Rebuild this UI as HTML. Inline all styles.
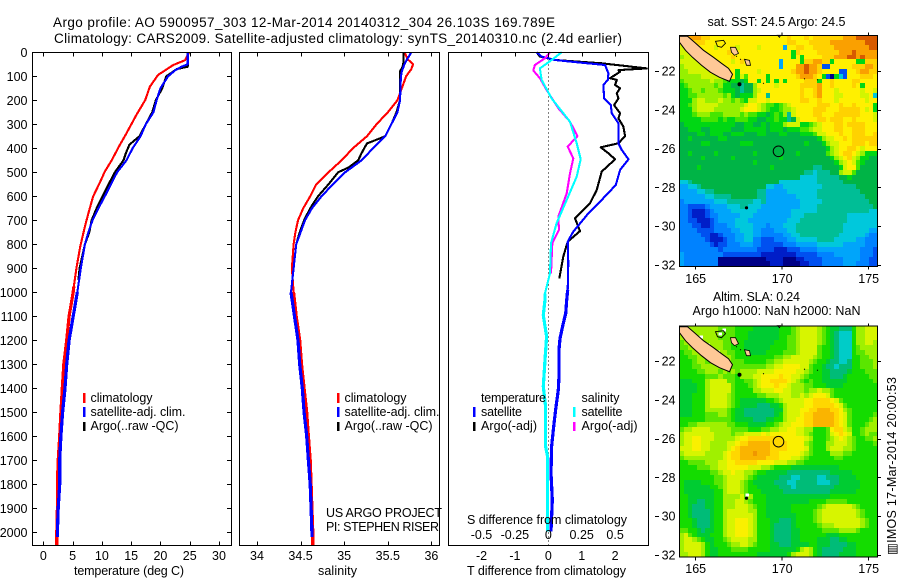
<!DOCTYPE html>
<html>
<head>
<meta charset="utf-8">
<title>Argo profile</title>
<style>
html,body{margin:0;padding:0;background:#fff;}
svg{display:block;}
text{font-family:"Liberation Sans",sans-serif;font-size:12.5px;fill:#000;}
.ttl{font-size:13.5px;}
.ax{fill:none;stroke:#000;stroke-width:1;shape-rendering:crispEdges;}
</style>
</head>
<body>
<svg id="fig" xmlns="http://www.w3.org/2000/svg" width="900" height="580" viewBox="0 0 900 580">
<rect x="0" y="0" width="900" height="580" fill="#fff"/>
<text class="ttl" x="53" y="27" textLength="502">Argo profile: AO 5900957_303 12-Mar-2014 20140312_304 26.103S 169.789E</text>
<text class="ttl" x="54" y="43" textLength="568">Climatology: CARS2009. Satellite-adjusted climatology: synTS_20140310.nc (2.4d earlier)</text>

<g id="p1"></g>
<g id="p2"></g>
<g id="p3"></g>
<g id="m1"></g>
<g id="m2"></g>

<text x="74" y="575" textLength="110">temperature (deg C)</text>
<text x="318" y="575" textLength="39">salinity</text>
<text x="467" y="575" textLength="159">T difference from climatology</text>
<text x="467" y="524" textLength="160">S difference from climatology</text>

<g>
<rect x="83" y="393" width="2.5" height="10" fill="#f00"/>
<rect x="83" y="407" width="2.5" height="10" fill="#00f"/>
<rect x="83" y="422" width="2.5" height="9" fill="#000"/>
<text x="90.5" y="402" textLength="62">climatology</text>
<text x="90.5" y="416" textLength="95">satellite-adj. clim.</text>
<text x="90.5" y="430" textLength="88">Argo(..raw -QC)</text>
</g>
<g>
<rect x="337" y="393" width="2.5" height="10" fill="#f00"/>
<rect x="337" y="407" width="2.5" height="10" fill="#00f"/>
<rect x="337" y="422" width="2.5" height="9" fill="#000"/>
<text x="344.5" y="402" textLength="62">climatology</text>
<text x="344.5" y="416" textLength="95">satellite-adj. clim.</text>
<text x="344.5" y="430" textLength="88">Argo(..raw -QC)</text>
</g>
<text x="326" y="517" textLength="116">US ARGO PROJECT</text>
<text x="326" y="531" textLength="113">PI: STEPHEN RISER</text>
<g>
<text x="481" y="402" textLength="65">temperature</text>
<text x="481" y="416" textLength="41">satellite</text>
<text x="481" y="430" textLength="56">Argo(-adj)</text>
<rect x="473" y="407" width="2.5" height="10" fill="#00f"/>
<rect x="473" y="422" width="2.5" height="9" fill="#000"/>
<text x="581.5" y="402" textLength="38">salinity</text>
<text x="581.5" y="416" textLength="41">satellite</text>
<text x="581.5" y="430" textLength="56">Argo(-adj)</text>
<rect x="573" y="407" width="2.5" height="10" fill="#0ff"/>
<rect x="573" y="422" width="2.5" height="9" fill="#f0f"/>
</g>
<text x="707.5" y="26" textLength="138">sat. SST: 24.5 Argo: 24.5</text>
<text x="713" y="301" textLength="87">Altim. SLA: 0.24</text>
<text x="692.5" y="315" textLength="168">Argo h1000: NaN h2000: NaN</text>
<text transform="translate(896,555) rotate(-90)" x="0" y="0" textLength="178">▥IMOS 17-Mar-2014 20:00:53</text>
</svg>

<script>
// ---------- profile data ----------
const depthTicks = [0,100,200,300,400,500,600,700,800,900,1000,1100,1200,1300,1400,1500,1600,1700,1800,1900,2000];
const tempTicks = [0,5,10,15,20,25,30];
const salTicks = [34,34.5,35,35.5,36];
const tDiffTicks = [-2,-1,0,1,2];
const sDiffTicks = [-0.5,-0.25,0,0.25,0.5];
const lonTicks = [165,170,175];
const latTicks = [22,24,26,28,30,32];

const tempClimDepth = [0,33,53,94,143,199,261,337,393,449,497,546,601,657,726,810,893,976,1000,1100,1200,1300,1400,1500,1600,1700,1800,1900,2000,2055];
const tempClim = [24.9,24.2,22.2,19.6,18.2,17.4,15.9,14.2,12.9,11.7,10.5,9.6,8.5,7.85,7.1,6.3,5.7,5.2,5.1,4.4,4.0,3.5,3.25,3.0,2.8,2.55,2.4,2.4,2.3,2.3];
const tempSatDepth = [0,50,60,75,100,150,200,250,300,350,400,450,500,550,600,650,700,750,800,900,1000,1100,1200,1300,1400,1500,1600,1700,1800,1900,2000,2020];
const tempSat = [24.65,24.65,23.6,22.5,21.3,20.0,19.35,18.8,17.5,16.6,15.25,14.2,12.6,11.55,10.5,9.4,8.4,7.7,7.1,6.4,5.8,5.1,4.4,4.0,3.7,3.3,3.0,2.8,2.8,2.55,2.4,2.4];
const tempArgoDepth = [0,50,60,70,100,150,200,250,300,350,385,420,450,500,550,600,650,700,750,800,900,950];
const tempArgo = [24.65,24.7,24.65,22.8,21.0,20.3,19.2,18.6,17.5,16.4,14.7,14.1,13.7,12.2,11.15,10.1,9.1,8.25,7.85,7.1,6.2,6.0];

const salClimDepth = [0,30,50,70,100,150,200,250,300,350,400,450,500,550,600,650,700,750,800,900,1000,1100,1200,1300,1400,1500,1600,1700,1800,1900,2000,2055];
const salClim = [35.69,35.73,35.79,35.77,35.71,35.66,35.61,35.50,35.37,35.26,35.10,34.97,34.82,34.68,34.61,34.53,34.47,34.44,34.42,34.40,34.42,34.45,34.49,34.51,34.54,34.57,34.59,34.61,34.62,34.63,34.64,34.64];
const salSatDepth = [0,30,50,80,100,200,250,300,350,400,450,500,550,600,650,700,750,800,900,1000,1100,1200,1300,1400,1500,1600,1700,1800,1900,2000,2020];
const salSat = [35.77,35.72,35.69,35.66,35.65,35.64,35.61,35.54,35.47,35.33,35.2,35.01,34.87,34.74,34.63,34.55,34.5,34.45,34.42,34.39,34.43,34.47,34.49,34.52,34.54,34.57,34.59,34.61,34.62,34.63,34.63];
const salArgoDepth = [0,40,60,80,200,250,300,350,380,420,450,480,500,550,600,650,700,750,800,900];
const salArgo = [35.68,35.68,35.67,35.64,35.64,35.6,35.54,35.47,35.26,35.2,35.16,35.05,34.93,34.82,34.7,34.61,34.54,34.49,34.45,34.42];

const dTSatDepth = [0,18,32,42,53,88,115,136,192,220,254,296,379,407,446,490,553,615,671,747,789,879,990,1032,1088,1129,1192,1240,1351,1407,1490,1574,1643,1754,1865,1997];
const dTSat = [-0.35,-0.2,0.2,0.9,1.7,1.8,1.78,1.65,1.67,1.87,1.9,2.1,2.1,2.2,2.4,2.15,2.02,1.6,1.2,0.75,0.58,0.6,0.58,0.55,0.52,0.45,0.35,0.32,0.32,0.3,0.22,0.15,0.1,0.08,0.12,0.08];
const dTArgoDepth = [0,18,32,46,67,74,81,108,115,136,150,171,192,220,254,275,310,349,379,396,421,446,497,574,629,692,745,789,851,942];
const dTArgo = [-0.35,-0.25,0.2,1.6,2.95,2.1,2.15,1.85,2.05,2.0,2.15,2.05,2.1,1.97,2.15,2.1,2.25,2.3,2.1,1.57,1.8,2.0,1.6,1.45,1.25,0.8,0.95,0.58,0.45,0.33];
const dSArgoDepth = [0,25,53,76,108,157,233,289,349,393,442,504,588,685,740,796,921];
const dSArgo = [0.0125,-0.025,-0.1,-0.1125,-0.0625,-0.0125,0.075,0.1625,0.2175,0.145,0.1875,0.1625,0.1375,0.075,0.08,0.03,0.02];
const dSSatDepth = [0,32,67,115,192,289,379,446,518,615,712,796,921,1004,1032,1095,1185,1282,1393,1476,1643,1685,1997];
const dSSat = [0.1,0.025,-0.0625,-0.05,0.025,0.1625,0.2125,0.2425,0.2125,0.1375,0.0625,0.02,0.0125,-0.025,-0.025,-0.0375,-0.0125,-0.025,-0.0375,-0.02,-0.02,-0.005,-0.005];

// ---------- map grids: one character per cell, hexadecimal colour level 0..15 ----------
const sstRows = [
"cceeeddccc"+"cccccccccc"+"cccccdcccd"+"cdddddddee"+"efffff",
"bdddddcccc"+"cccccccccc"+"cccccddccc"+"dddddeeeee"+"eeefff",
"bbcdccccbc"+"cccbccccbc"+"cccc4ccddc"+"cdddddeeee"+"eeeeff",
"bbbbcccccc"+"cdcccccccc"+"cccccc8dcc"+"ccdddddeee"+"feeeee",
"abbbbccccc"+"ccdccccccc"+"cccccc8c8c"+"cccdddeeef"+"fefeee",
"bbbbbbcccc"+"ccbcdccccc"+"ccc4cccc8d"+"deedd8cccc"+"c88ddd",
"abbbbbcccc"+"cccccccccc"+"ccc4ccceef"+"eed22ccccc"+"dddeed",
"aabbbbbccc"+"ccc8ccccbc"+"ccccccdeef"+"eedcccc22c"+"cdeedd",
"aaaaabbbbb"+"bcc8b9cccc"+"8ccccccdee"+"edc820852c"+"ccdddc",
"9aaaaaabaa"+"988878cc8c"+"8c8c8ccccd"+"dd8ccdcccc"+"ddcccc",
"89aaaaaa9a"+"8877677acc"+"ccbcccccdd"+"ddeccdcccc"+"dc8ccc",
"889aa9aaa9"+"8887677abc"+"ccccccccdc"+"cdecccbccc"+"ccbccb",
"8899aaaaaa"+"9a87888acc"+"6cccccccdc"+"cdecccbbcc"+"ccbbc5",
"888abbaaab"+"aa9a98bbcc"+"bcccccccdd"+"ccdcccbccc"+"cccbcc",
"889abbbbba"+"aaaaabccba"+"9989abcccc"+"ccdddccdcc"+"dcccc8",
"888abbbbaa"+"aaaabcccba"+"9889aabccc"+"cdddcccddd"+"ddcbc8",
"8889aaa999"+"aaaa9a9988"+"7898a6bccc"+"cddcccdddd"+"ddcccb",
"8888899998"+"9889998877"+"8898867bcc"+"ccddcdddcc"+"dccccb",
"7888888888"+"8887788778"+"7888abbb88"+"9abcccddcd"+"dddccc",
"7788877888"+"8877788888"+"7888788899"+"abbcccddcc"+"dddccc",
"7777887888"+"7788877788"+"7778877788"+"89bbcccdcc"+"dddccd",
"7787777778"+"8777777777"+"7777777777"+"778abbccdc"+"dddddd",
"7777788777"+"7777888777"+"7777777778"+"7778abbccc"+"dddcdd",
"7777777777"+"7777777777"+"7777777777"+"77778abccd"+"dcbccc",
"7787777787"+"7777777877"+"7777777877"+"77779abcdd"+"cba888",
"7777787777"+"7787777777"+"7778777777"+"777778abcd"+"ba8877",
"7777777777"+"7777777877"+"7777777777"+"7777778abc"+"b98777",
"7777877777"+"7777777777"+"7877777777"+"76677778bc"+"c97777",
"7777777777"+"7777777777"+"7777777776"+"6566677abb"+"977777",
"7777777777"+"7777777777"+"7777777755"+"5566666778"+"777777",
"5567777777"+"7777777777"+"7775555555"+"5566666677"+"777777",
"4455677777"+"7777777777"+"5544555555"+"5556666666"+"677777",
"4444556677"+"7777777766"+"4444455555"+"5566666666"+"667777",
"4444445566"+"6677777766"+"4444444555"+"5566666666"+"666777",
"3444444455"+"5666666556"+"4444444455"+"5556666666"+"666677",
"3322223444"+"4555665554"+"4444444455"+"5566666666"+"666667",
"3321112344"+"4455555544"+"4444445555"+"5566666666"+"666655",
"3321112334"+"4444555444"+"4444445556"+"6666666665"+"555555",
"3322111234"+"4445554444"+"4444455566"+"6666666665"+"555555",
"3332211233"+"3445555444"+"3444555666"+"6666666655"+"555555",
"3333222233"+"3344555443"+"3344455666"+"6666666655"+"555544",
"3333322112"+"3334455443"+"3333445566"+"6666666555"+"555433",
"3333332111"+"2334455332"+"2233344555"+"5566665555"+"544333",
"3333333212"+"2333444332"+"2222333444"+"4455555544"+"444333",
"3333333332"+"3333333322"+"2211122233"+"3344444444"+"443332",
"4333333333"+"2222222221"+"1111111222"+"2233334444"+"443332",
"4333333330"+"0000000000"+"1111000112"+"2223333344"+"443322",
"4333333330"+"0000000000"+"0111000011"+"2223333344"+"433322"
];
const slaRows = [
"aaaaaaaaa9"+"9998888777"+"7778889abb"+"bba9877666"+"8aabbb",
"aaaaaaaaa9"+"9998887777"+"7778889abb"+"bba9876555"+"8aabbb",
"aaaaaaaaa9"+"9998887777"+"7778899abb"+"bba9876555"+"8aabbb",
"9aaaaaaaaa"+"9988877777"+"7788899abb"+"bba9876555"+"8aabba",
"99aaaaaaaa"+"9988877777"+"7888899abb"+"bb98876555"+"89aaaa",
"899aaaaaaa"+"a998887777"+"8888999abb"+"bb98876555"+"899aaa",
"8899aaaaaa"+"aa98888888"+"8899aabbbb"+"ba98876555"+"8899aa",
"8889aa9aaa"+"aa99988888"+"99aabbbbbb"+"a988766556"+"88999a",
"88899aaaaa"+"aa99999999"+"aabbccccbb"+"9887665666"+"88999a",
"888899aaa9"+"a9a9aaaabb"+"bbcccccbba"+"9887766667"+"888999",
"888888999a"+"9998aaabbc"+"cccdccbba9"+"8887766678"+"888899",
"777888abbb"+"b998899abc"+"cddddcba98"+"9887777778"+"888889",
"777788abbb"+"bb98889abc"+"ccdccbaaa9"+"9888777788"+"888888",
"777788abbb"+"bb98888aab"+"bbccbbaaa9"+"aabaa98888"+"888888",
"777888abbb"+"ba98888899"+"aaabbbaaba"+"bcccb98888"+"888888",
"777888abbb"+"ba98777777"+"889abbbbbc"+"cddddcb988"+"888888",
"777888abbb"+"ba98777766"+"6778abbbbc"+"cdddddcb98"+"888888",
"777888aaaa"+"a987766666"+"6677abbbcc"+"ddeeeddca9"+"888888",
"777888999a"+"a987766666"+"6678abbbcd"+"deeeeedcb9"+"888889",
"8888889999"+"9987777666"+"7788abbccd"+"deeeeedcb9"+"88889a",
"8899aaaaaa"+"a998887777"+"889abbcccd"+"deeeeedcb9"+"8889aa",
"9aabbbbaaa"+"aa99998889"+"9aabbccbba"+"a8889cddba"+"889aaa",
"abbbbbbbaa"+"aa9aabbbbc"+"bccccccbba"+"98889bcdcb"+"889a99",
"abbccbbbaa"+"aaabccdddd"+"ddddcccccb"+"a8889abcba"+"98899a",
"abbccbbaaa"+"abbcddeeee"+"eddddcccca"+"9888aabbba"+"988889",
"bbbccbbaaa"+"abcdeeeeee"+"eddddccccb"+"9888abbbaa"+"988888",
"abbbbbaaaa"+"bcddeeefee"+"eddcccccba"+"98888aaa99"+"888888",
"9aaaaaaaaa"+"bcddeeeeee"+"dddcccbba9"+"8888889988"+"888888",
"889999aaab"+"bccdddddcc"+"ccbbbaa998"+"8888888888"+"888888",
"8888999aab"+"bcccccbbba"+"a988887777"+"7777777888"+"888888",
"888888899a"+"bbcbbaa988"+"7777766666"+"6666677777"+"888888",
"8888888899"+"abbbba9877"+"7776665566"+"6655666777"+"788888",
"8777788899"+"abbba98777"+"7766655666"+"6655566777"+"778888",
"8777777889"+"abbba98877"+"7776665666"+"6666667777"+"778888",
"8777777788"+"abbba98887"+"7777666666"+"6666677777"+"788888",
"8877777788"+"aaaab9a888"+"7777777777"+"7777788888"+"888888",
"8877667788"+"aaabba9888"+"7777777777"+"8888999998"+"888888",
"8876667788"+"aaabbba988"+"7777778888"+"889abbbbbb"+"a98888",
"8876666788"+"abbbbbaa88"+"7777778888"+"89abbbbbbb"+"ba9888",
"8876666788"+"abbbbbba88"+"7777777888"+"89abbbbbbb"+"ba9888",
"8887666788"+"abbcccba88"+"8776667888"+"89abbbbbbb"+"bba988",
"8887666788"+"abbcccba88"+"8766667888"+"889aaabbbb"+"bba988",
"9988767788"+"abbcccba88"+"8766667788"+"8889999aaa"+"a98888",
"ab98777888"+"abbcccba88"+"8766667788"+"8888777888"+"888888",
"abba987788"+"9abbbbaa88"+"8766667788"+"8877766778"+"888888",
"abbbba8788"+"89aabba988"+"8776667777"+"8877766667"+"788888",
"abbbba8778"+"8899998888"+"87777778ab"+"a876666677"+"788888",
"aabbba8778"+"8888888877"+"777778abbb"+"a876666777"+"788888"
];

// ---------- drawing helpers ----------
const NS = 'http://www.w3.org/2000/svg';
const PAL = ['#000086','#001ec8','#0050f0','#0082ff','#00a5fa','#00c8dc','#00be96','#00b446','#00d714','#46e600','#96f000','#d2f500','#fff000','#ffd200','#fAa000','#d75a00'];
const PAL2 = ['#000086','#001ec8','#0050f0','#0082ff','#00a5fa','#00ccc8','#00bc78','#00cc32','#14dc00','#5ae600','#a0f000','#d7f500','#faf000','#ffd700','#fab400','#f09600'];
function mk(parent, tag, attrs, txt){
  const e = document.createElementNS(NS, tag);
  for (const k in attrs) e.setAttribute(k, attrs[k]);
  if (txt !== undefined) e.textContent = txt;
  parent.appendChild(e);
  return e;
}
const TOP = 52.5, BOT = 545.5;
const yDepth = d => 52.3 + d * 0.24;
const xTemp = t => 43.3 + t * 5.857;
const xSal = s => 257 + (s - 34) * 87.2;
const xDT = t => 548.3 + t * 33.4;
const xDS = s => 548.3 + s * 133.6;

function curve(parent, depths, vals, xf, color, name){
  const pts = depths.map((d,i)=> xf(vals[i]).toFixed(1)+','+yDepth(d).toFixed(1));
  const p = mk(parent, 'polyline', {points:pts.join(' '), fill:'none', stroke:color, 'stroke-width':2.1, 'stroke-linejoin':'round', 'shape-rendering':'crispEdges'});
  
  
  const deep = pts.filter((s,i)=>depths[i]>=950);
  if (deep.length>1){
    const q = mk(parent, 'polyline', {points:deep.join(' '), fill:'none', stroke:color, 'stroke-width':3.2, 'shape-rendering':'crispEdges'});
    
    
  }
}
function frame(parent, x0, x1){
  const r = mk(parent,'rect',{x:x0,y:TOP,width:x1-x0,height:BOT-TOP,class:'ax'});
  
  
}
function xTicks(parent, ticks, xf, labelY, fmt, bottom){
  ticks.forEach(t=>{
    const x = Math.round(xf(t))+0.5;
    const a = mk(parent,'line',{x1:x,x2:x,y1:TOP,y2:TOP+4,class:'ax'});
    
    
    if (bottom){
      const b = mk(parent,'line',{x1:x,x2:x,y1:BOT,y2:BOT-4,class:'ax'});
      
      
    }
    const l = mk(parent,'text',{x:xf(t),y:labelY,'text-anchor':'middle'},fmt(t));
    
    
  });
}
const fmtPlain = t => String(t);

// ---------- temperature panel ----------
const p1 = document.getElementById('p1');
curve(p1,tempClimDepth,tempClim,xTemp,'#f00','climatology-temperature-line');
curve(p1,tempArgoDepth,tempArgo,xTemp,'#000','argo-temperature-line');
curve(p1,tempSatDepth,tempSat,xTemp,'#00f','satellite-temperature-line');
frame(p1,32.5,231.5);
xTicks(p1,tempTicks,xTemp,560,fmtPlain,true);
depthTicks.forEach(d=>{
  const y = Math.round(yDepth(d))+0.5;
  const l1 = mk(p1,'line',{x1:32.5,x2:37,y1:y,y2:y,class:'ax'});
  
  
  const l2 = mk(p1,'line',{x1:231.5,x2:227,y1:y,y2:y,class:'ax'});
  
  
  const t = mk(p1,'text',{x:27.5,y:yDepth(d)+4.5,'text-anchor':'end'},String(d));
  
  
});

// ---------- salinity panel ----------
const p2 = document.getElementById('p2');
curve(p2,salClimDepth,salClim,xSal,'#f00','climatology-salinity-line');
curve(p2,salArgoDepth,salArgo,xSal,'#000','argo-salinity-line');
curve(p2,salSatDepth,salSat,xSal,'#00f','satellite-salinity-line');
frame(p2,239.5,439.5);
xTicks(p2,salTicks,xSal,560,fmtPlain,true);

// ---------- difference panel ----------
const p3 = document.getElementById('p3');
const zero = mk(p3,'line',{x1:548.5,x2:548.5,y1:TOP,y2:BOT,stroke:'#000','stroke-width':1,'stroke-dasharray':'1 3'});


curve(p3,dTArgoDepth,dTArgo,xDT,'#000','argo-t-difference-line');
curve(p3,dTSatDepth,dTSat,xDT,'#00f','satellite-t-difference-line');
curve(p3,dSArgoDepth,dSArgo,xDS,'#f0f','argo-s-difference-line');
curve(p3,dSSatDepth,dSSat,xDS,'#0ff','satellite-s-difference-line');
frame(p3,448.5,648.5);
xTicks(p3,tDiffTicks,xDT,560,fmtPlain,false);
sDiffTicks.forEach(s=>{
  const t = mk(p3,'text',{x:xDS(s),y:539,'text-anchor':'middle'},String(s));
  
  
});

// ---------- maps ----------
const MAPX = 679.5, MAPW = 198, MAPH = 231, NCOL = 46, NROW = 48;
const landPts = '0,1 8,1 15,7 24,15 34,22 42,28 49,33 53,39 50,46 40,42 31,37 22,30 13,22 6,15 0,7';
const islands = ['51,12 56,12 59,18 55,20 52,17','65,24 70,25 71,30 67,30','98,0 101,0 100,2'];
const lagoon = '36,6 44,5 46,8 42,12 38,11';
const dots = [[60,49,2],[67,172.5,1.6],[84,48,0.6],[125,43.5,0.6],[138,44.5,0.6],[57,21,0.6],[61,24,0.6]];
function drawMap(id, rows, palette, topY, latAt, labelY, whiteSpecks){
  const g = document.getElementById(id);
  const cw = MAPW/NCOL, ch = MAPH/NROW;
  rows.forEach((row,r)=>{
    for (let c=0;c<NCOL;c++){
      const v = parseInt(row[c] || row[row.length-1],16);
      const x0 = Math.round(MAPX+c*cw), x1 = Math.round(MAPX+(c+1)*cw);
      const y0 = Math.round(topY+r*ch), y1 = Math.round(topY+(r+1)*ch);
      const cell = mk(g,'rect',{x:x0,y:y0,width:x1-x0,height:y1-y0,fill:palette[v],'shape-rendering':'crispEdges'});
      
      
    }
  });
  const land = mk(g,'g',{transform:'translate('+MAPX+','+topY+')'});
  
  
  whiteSpecks.forEach(s=>{
    const w = mk(land,'rect',{x:s[0],y:s[1],width:3.5,height:3,fill:'#fff','shape-rendering':'crispEdges'});
    
    
  });
  const lg = mk(land,'polygon',{points:lagoon,fill:'none',stroke:'#000','stroke-width':0.9});
  
  
  const nc = mk(land,'polygon',{points:landPts,fill:'#ffc896',stroke:'#000','stroke-width':1});
  
  
  islands.forEach(pts=>{
    const i = mk(land,'polygon',{points:pts,fill:'#ffc896',stroke:'#000','stroke-width':0.8});
    
    
  });
  dots.forEach(d=>{
    const o = mk(land,'circle',{cx:d[0],cy:d[1],r:d[2],fill:'#000'});
    
    
  });
  const f = mk(g,'rect',{x:MAPX,y:topY+0.2,width:MAPW,height:MAPH,class:'ax'});
  
  
  const fy = Math.round(topY)+0.5;
  lonTicks.forEach(lon=>{
    const x = 695.7 + (lon-165)*17.3;
    const a = mk(g,'line',{x1:x,x2:x,y1:fy-3,y2:fy,class:'ax'});
    
    
    const b = mk(g,'line',{x1:x,x2:x,y1:fy+MAPH,y2:fy+MAPH+3,class:'ax'});
    
    
    const t = mk(g,'text',{x:x,y:labelY,'text-anchor':'middle'},String(lon));
    
    
  });
  latTicks.forEach(lat=>{
    const y = Math.round(latAt(lat))+0.5;
    const a = mk(g,'line',{x1:655,x2:659,y1:y,y2:y,class:'ax'});
    
    
    const b = mk(g,'line',{x1:877.5,x2:881,y1:y,y2:y,class:'ax'});
    
    
    const t = mk(g,'text',{x:675.5,y:latAt(lat)+4.5,'text-anchor':'end'},String(lat));
    
    
  });
  const c = mk(g,'circle',{cx:MAPX+99,cy:topY+116,r:5.3,fill:'none',stroke:'#000','stroke-width':1});
  
  
}
drawMap('m1', sstRows, PAL, 35.3, lat=>71+(lat-22)*19.4, 283, []);
drawMap('m2', slaRows, PAL2, 325.7, lat=>361+(lat-22)*19.4, 573, [[39,7],[43,3],[20,10],[27,18],[37,25],[66,168]]);
</script>
</body>
</html>
